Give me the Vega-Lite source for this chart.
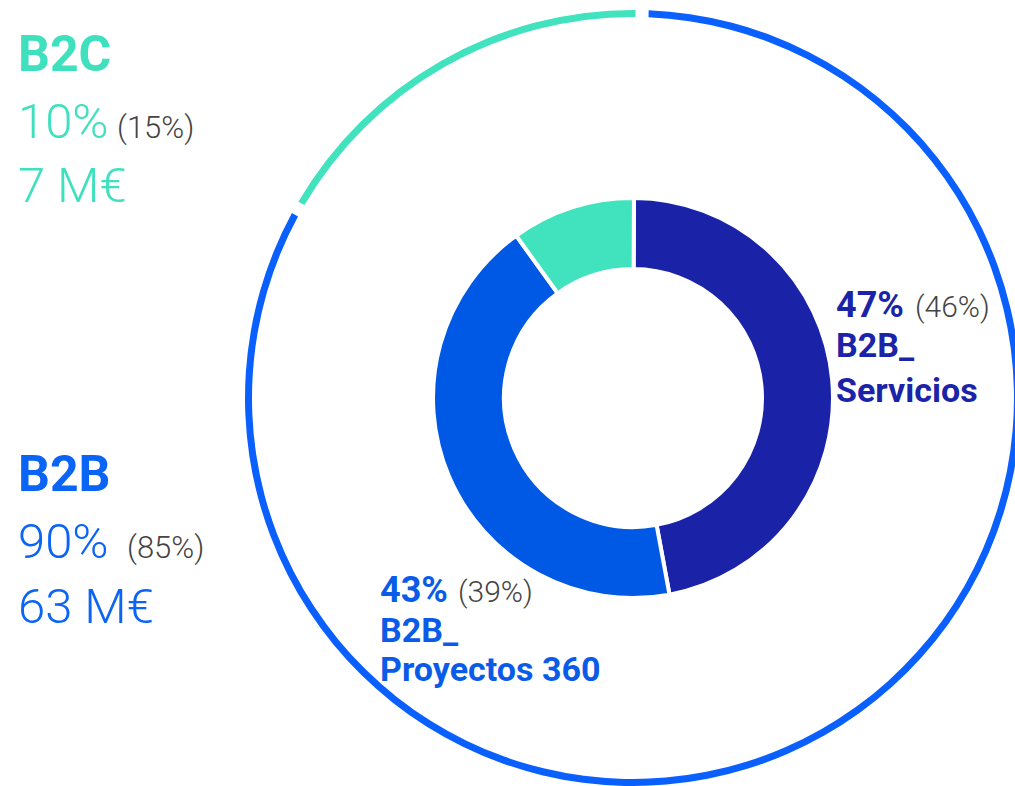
{
  "$schema": "https://vega.github.io/schema/vega-lite/v6.json",
  "width": 764,
  "height": 776,
  "autosize": {"type": "none"},
  "padding": {"left": 251, "top": 10, "right": 0, "bottom": 0},
  "background": "white",
  "config": {"view": {"stroke": null}, "font": "Roboto"},
  "datasets": {
    "ring": [
      {"segment": "B2B", "share": 0.828},
      {"segment": "B2C", "share": 0.172}
    ],
    "donut": [
      {"segment": "B2B_Servicios", "share": 0.47, "prev": 0.46},
      {"segment": "B2B_Proyectos 360", "share": 0.43, "prev": 0.39},
      {"segment": "B2C", "share": 0.10, "prev": 0.15}
    ],
    "groups": [
      {"group": "B2C", "share": 0.10, "prev": 0.15, "revenue": 7},
      {"group": "B2B", "share": 0.90, "prev": 0.85, "revenue": 63}
    ]
  },
  "resolve": {"scale": {"theta": "independent"}},
  "layer": [
    {
      "data": {"name": "ring"},
      "mark": {"type": "arc", "outerRadius": 388, "innerRadius": 381, "padAngle": 0.024},
      "encoding": {
        "theta": {"field": "share", "type": "quantitative", "stack": true, "scale": {"range": [0.0236, 6.3068]}},
        "order": {"field": "segment", "sort": "ascending"},
        "color": {
          "field": "segment", "type": "nominal", "legend": null,
          "scale": {"domain": ["B2B", "B2C", "B2B_Servicios", "B2B_Proyectos 360"], "range": ["#0A5FFF", "#41E2BE", "#1A23A8", "#0059E4"]}
        }
      }
    },
    {
      "data": {"name": "donut"},
      "mark": {"type": "arc", "outerRadius": 200, "innerRadius": 129, "stroke": "white", "strokeWidth": 4},
      "encoding": {
        "theta": {"field": "share", "type": "quantitative", "stack": true, "scale": {"range": [0.005, 6.288]}},
        "order": {"field": "share", "sort": "descending"},
        "color": {"field": "segment", "type": "nominal", "legend": null}
      }
    },
    {
      "data": {"name": "groups"},
      "transform": [{"filter": "datum.group === 'B2C'"}],
      "mark": {"type": "text", "x": -233, "y": 61, "align": "left", "baseline": "alphabetic", "fontSize": 50, "fontWeight": "bold", "color": "#3FE0BE"},
      "encoding": {"text": {"field": "group"}}
    },
    {
      "data": {"name": "groups"},
      "transform": [{"filter": "datum.group === 'B2C'"}],
      "mark": {"type": "text", "x": -233, "y": 128, "align": "left", "baseline": "alphabetic", "fontSize": 49, "fontWeight": 300, "color": "#3FE0BE"},
      "encoding": {"text": {"field": "share", "format": ".0%"}}
    },
    {
      "data": {"name": "groups"},
      "transform": [{"filter": "datum.group === 'B2C'"}, {"calculate": "'(' + format(datum.prev, '.0%') + ')'", "as": "prevLabel"}],
      "mark": {"type": "text", "x": -134, "y": 128, "align": "left", "baseline": "alphabetic", "fontSize": 31, "fontWeight": 300, "color": "#444444"},
      "encoding": {"text": {"field": "prevLabel"}}
    },
    {
      "data": {"name": "groups"},
      "transform": [{"filter": "datum.group === 'B2C'"}, {"calculate": "datum.revenue + ' M€'", "as": "revLabel"}],
      "mark": {"type": "text", "x": -233, "y": 192, "align": "left", "baseline": "alphabetic", "fontSize": 49, "fontWeight": 300, "color": "#3FE0BE"},
      "encoding": {"text": {"field": "revLabel"}}
    },
    {
      "data": {"name": "groups"},
      "transform": [{"filter": "datum.group === 'B2B'"}],
      "mark": {"type": "text", "x": -233, "y": 481, "align": "left", "baseline": "alphabetic", "fontSize": 50, "fontWeight": "bold", "color": "#0A64F5"},
      "encoding": {"text": {"field": "group"}}
    },
    {
      "data": {"name": "groups"},
      "transform": [{"filter": "datum.group === 'B2B'"}],
      "mark": {"type": "text", "x": -233, "y": 548, "align": "left", "baseline": "alphabetic", "fontSize": 49, "fontWeight": 300, "color": "#0A64F5"},
      "encoding": {"text": {"field": "share", "format": ".0%"}}
    },
    {
      "data": {"name": "groups"},
      "transform": [{"filter": "datum.group === 'B2B'"}, {"calculate": "'(' + format(datum.prev, '.0%') + ')'", "as": "prevLabel"}],
      "mark": {"type": "text", "x": -124, "y": 548, "align": "left", "baseline": "alphabetic", "fontSize": 31, "fontWeight": 300, "color": "#444444"},
      "encoding": {"text": {"field": "prevLabel"}}
    },
    {
      "data": {"name": "groups"},
      "transform": [{"filter": "datum.group === 'B2B'"}, {"calculate": "datum.revenue + ' M€'", "as": "revLabel"}],
      "mark": {"type": "text", "x": -233, "y": 613, "align": "left", "baseline": "alphabetic", "fontSize": 49, "fontWeight": 300, "color": "#0A64F5"},
      "encoding": {"text": {"field": "revLabel"}}
    },
    {
      "data": {"name": "donut"},
      "transform": [{"filter": "datum.segment === 'B2B_Servicios'"}],
      "mark": {"type": "text", "x": 585, "y": 307, "align": "left", "baseline": "alphabetic", "fontSize": 36, "fontWeight": "bold", "color": "#1B24A8"},
      "encoding": {"text": {"field": "share", "format": ".0%"}}
    },
    {
      "data": {"name": "donut"},
      "transform": [{"filter": "datum.segment === 'B2B_Servicios'"}, {"calculate": "'(' + format(datum.prev, '.0%') + ')'", "as": "prevLabel"}],
      "mark": {"type": "text", "x": 664, "y": 307, "align": "left", "baseline": "alphabetic", "fontSize": 30, "fontWeight": 300, "color": "#444444"},
      "encoding": {"text": {"field": "prevLabel"}}
    },
    {
      "data": {"name": "donut"},
      "transform": [{"filter": "datum.segment === 'B2B_Servicios'"}, {"calculate": "[split(datum.segment, '_')[0] + '_', split(datum.segment, '_')[1]]", "as": "nameLines"}],
      "mark": {"type": "text", "x": 585, "y": 347, "align": "left", "baseline": "alphabetic", "fontSize": 34, "fontWeight": "bold", "lineHeight": 45, "color": "#1B24A8"},
      "encoding": {"text": {"field": "nameLines"}}
    },
    {
      "data": {"name": "donut"},
      "transform": [{"filter": "datum.segment === 'B2B_Proyectos 360'"}],
      "mark": {"type": "text", "x": 129, "y": 592, "align": "left", "baseline": "alphabetic", "fontSize": 36, "fontWeight": "bold", "color": "#0A5CE8"},
      "encoding": {"text": {"field": "share", "format": ".0%"}}
    },
    {
      "data": {"name": "donut"},
      "transform": [{"filter": "datum.segment === 'B2B_Proyectos 360'"}, {"calculate": "'(' + format(datum.prev, '.0%') + ')'", "as": "prevLabel"}],
      "mark": {"type": "text", "x": 207, "y": 592, "align": "left", "baseline": "alphabetic", "fontSize": 30, "fontWeight": 300, "color": "#444444"},
      "encoding": {"text": {"field": "prevLabel"}}
    },
    {
      "data": {"name": "donut"},
      "transform": [{"filter": "datum.segment === 'B2B_Proyectos 360'"}, {"calculate": "[split(datum.segment, '_')[0] + '_', split(datum.segment, '_')[1]]", "as": "nameLines"}],
      "mark": {"type": "text", "x": 129, "y": 632, "align": "left", "baseline": "alphabetic", "fontSize": 34, "fontWeight": "bold", "lineHeight": 39, "color": "#0A5CE8"},
      "encoding": {"text": {"field": "nameLines"}}
    }
  ]
}
